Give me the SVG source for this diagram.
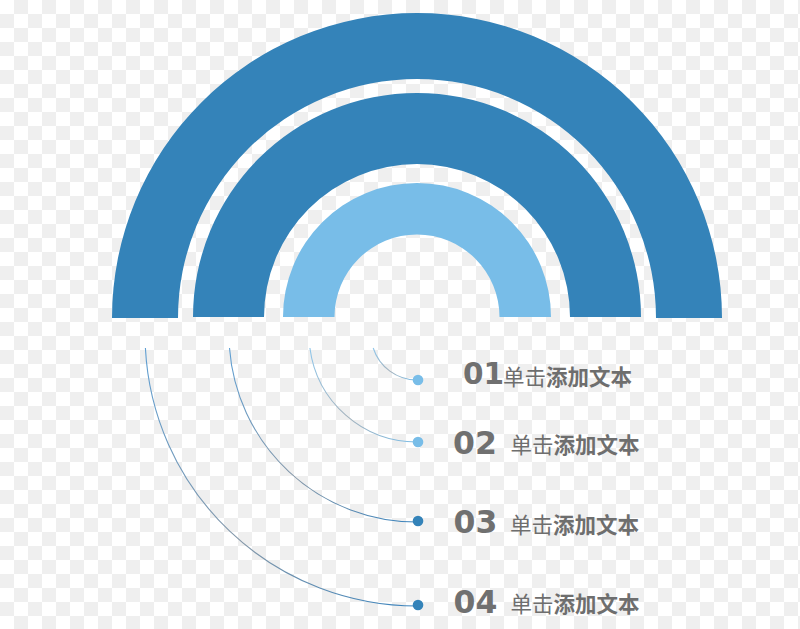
<svg xmlns="http://www.w3.org/2000/svg" width="800" height="629" viewBox="0 0 800 629">
  <defs>
    <pattern id="checker" x="0" y="0" width="28" height="28" patternUnits="userSpaceOnUse">
      <rect width="28" height="28" fill="#ffffff"/>
      <rect x="14" y="0" width="14" height="14" fill="#efefef"/>
      <rect x="0" y="14" width="14" height="14" fill="#efefef"/>
    </pattern>
    <linearGradient id="lineDark" x1="0" y1="0" x2="1" y2="1">
      <stop offset="0" stop-color="#5e9ed2"/>
      <stop offset="0.55" stop-color="#8497a8"/>
      <stop offset="1" stop-color="#3a83bd"/>
    </linearGradient>
    <linearGradient id="lineLight" x1="0" y1="0" x2="1" y2="1">
      <stop offset="0" stop-color="#8fc6ea"/>
      <stop offset="0.55" stop-color="#a3b2bd"/>
      <stop offset="1" stop-color="#7dbde6"/>
    </linearGradient>
  </defs>
  <style>
    .dark { fill: #3483b9; }
    .light { fill: #78bde8; }
    .conn { fill: none; stroke-width: 1.1; }
    .num { font-family: "DejaVu Sans", "Liberation Sans", sans-serif; font-weight: 700; fill: #707070; }
    .lbl { font-family: "Noto Sans CJK SC", "Noto Sans", sans-serif; font-size: 21.5px; fill: #6e6e6e; }
    .b { font-weight: 700; }
  </style>

  <rect width="800" height="629" fill="url(#checker)"/>

  <g id="arc-outer">
    <path class="dark" d="M 112 318 A 305 305 0 0 1 722 318 L 656 318 A 239 239 0 0 0 178 318 Z"/>
  </g>
  <g id="arc-middle">
    <path class="dark" d="M 193 317 A 224 224 0 0 1 641 317 L 570 317 A 153 153 0 0 0 264 317 Z"/>
  </g>
  <g id="arc-inner">
    <path class="light" d="M 283 317 A 134 134 0 0 1 551 317 L 499.5 317 A 82.5 82.5 0 0 0 334.5 317 Z"/>
  </g>

  <g id="connectors">
    <path class="conn" stroke="url(#lineDark)" d="M 145.4 348 A 272 272 0 0 0 417 606"/>
    <path class="conn" stroke="url(#lineDark)" d="M 229.5 348 A 188 188 0 0 0 417 522"/>
    <path class="conn" stroke="url(#lineLight)" d="M 309.9 348 A 108 108 0 0 0 417 442"/>
    <path class="conn" stroke="url(#lineLight)" d="M 373.2 348 A 46 46 0 0 0 417 380"/>
  </g>

  <g id="item-01">
    <circle class="light" cx="418" cy="380" r="5.3"/>
    <text class="num" x="463" y="384" font-size="29.5">01</text>
    <text class="lbl" x="503" y="385">单击<tspan class="b">添加文本</tspan></text>
  </g>
  <g id="item-02">
    <circle class="light" cx="418" cy="442" r="5.3"/>
    <text class="num" x="453" y="454" font-size="31.5">02</text>
    <text class="lbl" x="510.5" y="453">单击<tspan class="b">添加文本</tspan></text>
  </g>
  <g id="item-03">
    <circle class="dark" cx="418" cy="521" r="5.3"/>
    <text class="num" x="453.5" y="533" font-size="31.5">03</text>
    <text class="lbl" x="510" y="533">单击<tspan class="b">添加文本</tspan></text>
  </g>
  <g id="item-04">
    <circle class="dark" cx="418" cy="605" r="5.3"/>
    <text class="num" x="453.5" y="613" font-size="31.5">04</text>
    <text class="lbl" x="510.5" y="612">单击<tspan class="b">添加文本</tspan></text>
  </g>
</svg>
